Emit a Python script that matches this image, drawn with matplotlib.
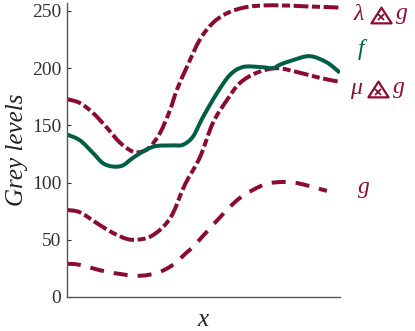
import matplotlib
matplotlib.use("Agg")
import matplotlib.pyplot as plt
from matplotlib.path import Path
from matplotlib.patches import PathPatch

RED = "#8a0c32"
GREEN = "#005e45"

# curves (x in arbitrary horizontal units, y in grey levels)
f_x = [0, 13, 26, 36, 46, 56, 66, 80, 90, 106, 116, 126, 136, 150, 163, 176, 193, 206, 213, 226, 243, 260, 273]
f_y = [142, 137, 126, 117, 114, 115, 121.5, 129, 132, 132.5, 133, 140, 157, 178, 194, 201, 201, 200, 203, 207, 210.5, 205, 196]

lam_x = [0, 13, 26, 40, 53, 66, 75, 83, 93, 103, 110, 120, 133, 146, 160, 180, 206, 240, 273]
lam_y = [173, 169.6, 161, 148, 135, 127, 127, 131, 143, 163, 181, 201, 225, 239.5, 248, 253.5, 255, 254, 253]

mu_x = [0, 13, 30, 46, 60, 70, 83, 96, 106, 118, 133, 146, 160, 173, 190, 210, 233, 253, 273]
mu_y = [76, 74, 64.5, 56, 50.7, 50, 52.5, 61, 73, 98, 122, 152, 172, 187, 196, 200, 196, 191.5, 188]

g_x = [0, 13, 40, 70, 90, 106, 120, 126, 140, 160, 173, 186, 200, 216, 230, 246, 260]
g_y = [29, 28, 22, 18.5, 21, 28, 39, 43.7, 57, 76, 86.5, 93.5, 99, 100.5, 99.6, 96, 92.7]

y_ticks = [0, 50, 100, 150, 200, 250]
# curve labels: "λ⨻g", "f", "μ⨻g", "g" (⨻ has no installed glyph -> drawn as a shape)
lab_lam = "λ"
lab_f = "f"
lab_mu = "μ"
lab_g = "g"

plt.rcParams['font.family'] = ['Liberation Serif', 'DejaVu Serif', 'DejaVu Sans']

fig = plt.figure(figsize=(4.15, 3.31), dpi=100)
ax = fig.add_axes([0.161, 0.103, 0.658, 0.888])


def smooth_path(xs, ys):
    """Catmull-Rom curve through the given points as cubic Bezier segments."""
    n = len(xs)
    verts = [(xs[0], ys[0])]
    codes = [Path.MOVETO]
    for i in range(n - 1):
        x0, y0 = (xs[i - 1], ys[i - 1]) if i > 0 else (xs[i], ys[i])
        x1, y1 = xs[i], ys[i]
        x2, y2 = xs[i + 1], ys[i + 1]
        x3, y3 = (xs[i + 2], ys[i + 2]) if i + 2 < n else (x2, y2)
        c1 = (x1 + (x2 - x0) / 6.0, y1 + (y2 - y0) / 6.0)
        c2 = (x2 - (x3 - x1) / 6.0, y2 - (y3 - y1) / 6.0)
        verts += [c1, c2, (x2, y2)]
        codes += [Path.CURVE4] * 3
    return Path(verts, codes)


lw = 4.0 * 72 / 100
for xs, ys, col, ls in [
    (lam_x, lam_y, RED, (0, (3.7, 0.9, 2.0, 0.9))),
    (mu_x, mu_y, RED, (0, (3.7, 0.9, 2.0, 0.9))),
    (g_x, g_y, RED, (0, (3.5, 2.5))),
    (f_x, f_y, GREEN, '-'),
]:
    patch = PathPatch(smooth_path(xs, ys), facecolor='none', edgecolor=col,
                      lw=lw, linestyle=ls, capstyle='butt', transform=ax.transData)
    ax.add_patch(patch)

ax.set_xlim(0, 273)
ax.set_ylim(0, 257)
ax.set_yticks(y_ticks)
ax.set_xticks([])
ax.tick_params(axis='y', direction='in', length=3, labelsize=14, colors='#333333', pad=4)
for s in ['top', 'right']:
    ax.spines[s].set_visible(False)
for s in ['left', 'bottom']:
    ax.spines[s].set_color('#555555')
    ax.spines[s].set_linewidth(1.0)

ax.set_ylabel("Grey levels", fontsize=18, style='italic', color='#222222', labelpad=3)
ax.set_xlabel("x", fontsize=18, style='italic', color='#222222', labelpad=9)

tk = dict(transform=ax.transData, fontsize=17, style='italic', clip_on=False, va='center', ha='center')
tri = Path([(-1, -0.78), (1, -0.78), (0, 0.78), (-1, -0.78)], closed=True)


def op_label(x0, y0, sym):
    ax.text(x0, y0, sym, color=RED, **tk)
    ax.plot([x0 + 22], [y0 - 0.5], marker=tri, ms=14.5, mfc='none', mec=RED, mew=1.6, clip_on=False)
    ax.plot([x0 + 22], [y0 - 2.5], marker='x', ms=5, mec=RED, mew=1.3, clip_on=False)
    ax.text(x0 + 43, y0 + 1, lab_g, color=RED, **tk)


op_label(292, 247, lab_lam)
ax.text(294, 216, lab_f, color=GREEN, **tk)
op_label(289, 182, lab_mu)
ax.text(297, 96, lab_g, color=RED, **tk)

fig.savefig("out.png", dpi=100)
